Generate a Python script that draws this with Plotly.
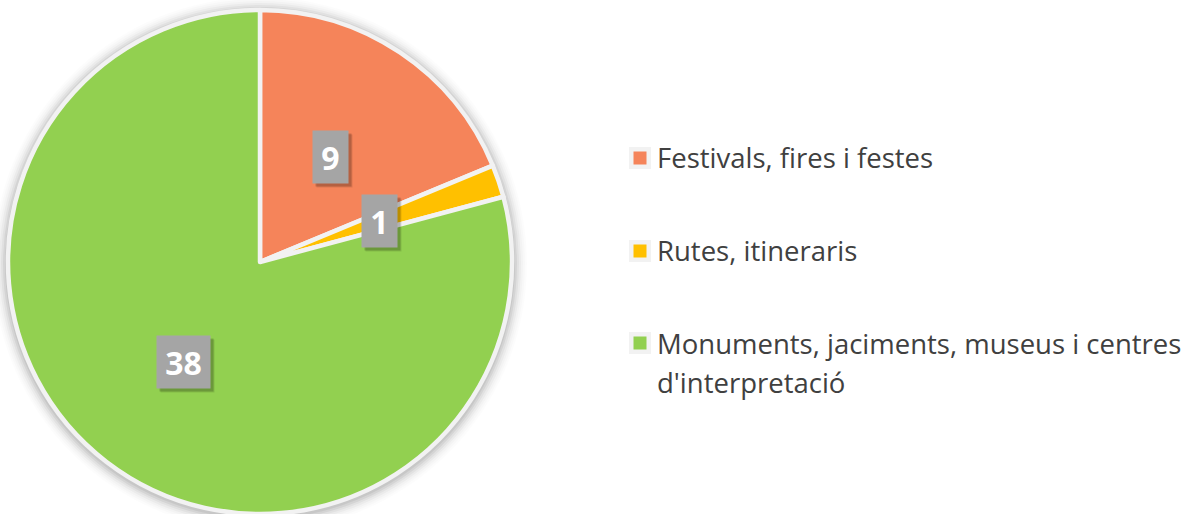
import math
import plotly.graph_objects as go

# Data
labels = ["Festivals, fires i festes", "Rutes, itineraris",
          "Monuments, jaciments, museus i centres<br>d'interpretació"]
values = [9, 1, 38]
colors = ["#F5845A", "#FFC000", "#92D050"]

# Canvas geometry (px)
W, H = 1194, 514
top = 10
plot_h = H - top
cx, cy = 260, 262
R = plot_h / 2

def px_x(x):
    return x / W

def px_y(y):
    return (H - y) / plot_h

fig = go.Figure()
fig.add_trace(go.Pie(
    labels=labels, values=values, sort=False, direction="clockwise", rotation=0,
    marker=dict(colors=colors, line=dict(color="#F2F2F2", width=4.5)),
    textinfo="none", hoverinfo="label+value", showlegend=False,
    domain=dict(x=[px_x(cx - R), px_x(cx + R)], y=[0, 1]),
))

# soft shadow round the pie
shapes = []
for i, a in enumerate([0.06, 0.05, 0.04, 0.03, 0.02, 0.015, 0.01]):
    r = R + 3 + i * 2
    shapes.append(dict(type="circle", xref="paper", yref="paper", layer="below",
                       x0=px_x(cx - r), x1=px_x(cx + r), y0=px_y(cy + r + 2), y1=px_y(cy - r + 2),
                       fillcolor="rgba(0,0,0,%s)" % a, line=dict(width=0)))

# data labels, half way out along each slice's mid angle
annotations = []
total = sum(values)
start = 0
for v in values:
    mid = (start + v / 2) / total * 2 * math.pi
    start += v
    lx = cx + 0.5 * R * math.sin(mid)
    ly = cy - 0.5 * R * math.cos(mid)
    txt = str(v)
    w = 18 * len(txt) + 7
    # drop shadow boxes
    for dx, dy, col in [(4, -4, "rgba(0,0,0,0.10)"), (3, -3, "rgba(0,0,0,0.18)")]:
        annotations.append(dict(x=px_x(lx), y=px_y(ly), xref="paper", yref="paper",
                                xanchor="center", yanchor="middle",
                                text="&nbsp;", showarrow=False, xshift=dx, yshift=dy,
                                width=w, height=42, borderpad=5, bgcolor=col,
                                font=dict(family="Open Sans", size=32)))
    annotations.append(dict(x=px_x(lx), y=px_y(ly), xref="paper", yref="paper",
                            xanchor="center", yanchor="middle",
                            text="<b>%s</b>" % txt, showarrow=False,
                            width=w, height=42, borderpad=5, bgcolor="#A5A5A5",
                            font=dict(family="Open Sans", size=32, color="white")))

# legend
leg_x = 640
leg_y = [158, 251, 343]
line_gap = 39
for lab, col, y in zip(labels, colors, leg_y):
    shapes.append(dict(type="rect", xref="paper", yref="paper",
                       x0=px_x(leg_x - 11), x1=px_x(leg_x + 11), y0=px_y(y + 11), y1=px_y(y - 11),
                       fillcolor="#F2F2F2", line=dict(width=0)))
    shapes.append(dict(type="rect", xref="paper", yref="paper",
                       x0=px_x(leg_x - 6.5), x1=px_x(leg_x + 6.5), y0=px_y(y + 6.5), y1=px_y(y - 6.5),
                       fillcolor=col, line=dict(width=0)))
    for k, part in enumerate(lab.split("<br>")):
        annotations.append(dict(x=px_x(leg_x + 15), y=px_y(y + k * line_gap), xref="paper", yref="paper",
                                text=part, showarrow=False, xanchor="left", yanchor="middle",
                                font=dict(family="Open Sans", size=27.5, color="#404040")))

fig.update_layout(
    width=W, height=H, margin=dict(l=0, r=0, t=top, b=0),
    paper_bgcolor="white", plot_bgcolor="white",
    shapes=shapes, annotations=annotations,
)
fig.write_html("out.html", config={"displayModeBar": False},
               post_script="document.body.style.margin='0';")
